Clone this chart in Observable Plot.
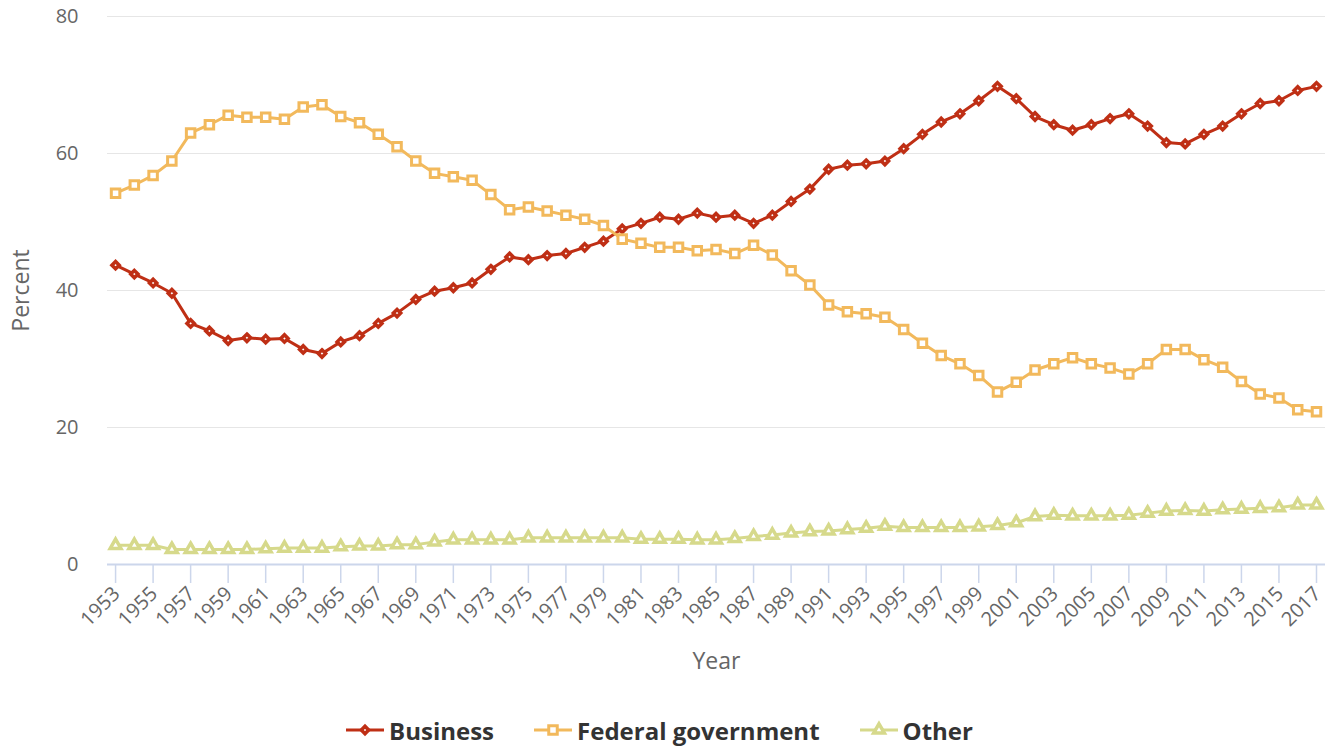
<!DOCTYPE html>
<html>
<head>
<meta charset="utf-8">
<script src="https://cdn.jsdelivr.net/npm/d3@7"></script>
<script src="https://cdn.jsdelivr.net/npm/@observablehq/plot@0.6"></script>
<style>
  html, body { margin: 0; padding: 0; background: #fff; }
  #chart { width: 1334px; }
  .legend { display: flex; justify-content: center; align-items: center; gap: 40px;
    font-family: "Open Sans", sans-serif; font-weight: 700; font-size: 24px; color: #333;
    height: 32px; margin-top: 14px; padding-right: 15px; width: 1334px; box-sizing: border-box; }
  .legend .item { display: flex; align-items: center; gap: 5px; }
  .legend svg { display: block; }
</style>
</head>
<body>
<div id="chart"></div>
<script>
const years = d3.range(1953, 2018);
const business = [43.7,42.4,41.1,39.6,35.2,34.1,32.7,33.1,32.9,33.0,
  31.4,30.8,32.5,33.4,35.2,36.7,38.7,39.9,40.4,41.1,
  43.1,44.9,44.5,45.1,45.4,46.3,47.2,49.0,49.8,50.7,
  50.4,51.3,50.7,51.0,49.8,51.0,53.0,54.8,57.7,58.3,
  58.5,58.9,60.7,62.8,64.6,65.8,67.7,69.8,68.0,65.4,
  64.2,63.4,64.2,65.1,65.8,64.0,61.6,61.4,62.8,64.0,
  65.8,67.3,67.7,69.2,69.8];
const federal = [54.2,55.4,56.8,58.9,63.0,64.2,65.6,65.3,65.3,65.0,
  66.8,67.1,65.4,64.5,62.8,61.0,58.9,57.1,56.6,56.1,
  54.0,51.8,52.2,51.6,51.0,50.4,49.5,47.5,46.9,46.3,
  46.3,45.8,46.0,45.4,46.6,45.2,42.9,40.8,37.9,36.9,
  36.6,36.1,34.3,32.3,30.5,29.3,27.6,25.2,26.6,28.4,
  29.3,30.2,29.3,28.7,27.8,29.3,31.4,31.4,29.9,28.8,
  26.7,24.9,24.3,22.6,22.3];
const other = [2.8,2.8,2.8,2.2,2.2,2.2,2.2,2.2,2.3,2.4,
  2.4,2.4,2.6,2.7,2.7,2.9,2.9,3.3,3.6,3.6,
  3.6,3.6,3.9,3.9,3.9,3.9,3.9,3.9,3.7,3.7,
  3.7,3.6,3.6,3.8,4.1,4.3,4.6,4.8,4.9,5.1,
  5.3,5.6,5.4,5.4,5.4,5.4,5.5,5.7,6.1,7.0,
  7.2,7.1,7.1,7.1,7.2,7.5,7.8,7.9,7.8,8.0,
  8.1,8.2,8.3,8.7,8.7];
const seriesNames = ["Business", "Federal government", "Other"];
const seriesColors = ["#bf2f15", "#f2b95c", "#d6d98b"];
const seriesSymbols = ["diamond2", "square", "triangle"];
const yTicks = [0, 20, 40, 60, 80];
const xTicks = d3.range(1953, 2018, 2);

const seriesValues = [business, federal, other];
const tables = seriesValues.map(vals => years.map((yr, i) => ({year: yr, value: vals[i]})));
const dotR = [3.3, 4.8, 4.0];
const dotStroke = [3.5, 3, 3.5];

const seriesMarks = tables.flatMap((t, k) => [
  Plot.line(t, {x: "year", y: "value", stroke: seriesColors[k], strokeWidth: 3}),
  Plot.dot(t, {x: "year", y: "value", symbol: seriesSymbols[k], r: dotR[k],
    fill: "white", stroke: seriesColors[k], strokeWidth: dotStroke[k]})
]);

const chart = Plot.plot({
  width: 1334,
  height: 700,
  marginTop: 16,
  marginBottom: 136,
  marginLeft: 107,
  marginRight: 9,
  x: {domain: [1952.57, 2017.48]},
  y: {domain: [0, 80]},
  style: {fontFamily: "'Open Sans', sans-serif", color: "#666", background: "white", overflow: "visible"},
  marks: [
    Plot.ruleY(yTicks.filter(d => d > 0), {stroke: "#e6e6e6", strokeWidth: 1.2}),
    Plot.axisY({ticks: yTicks, tickSize: 0, tickPadding: 29, fontSize: 20, label: null, tickFormat: d => String(d)}),
    Plot.axisX({ticks: xTicks, tickSize: 19, tickFormat: () => "", stroke: "#ccd6eb", strokeWidth: 1.5, label: null}),
    Plot.ruleY([0], {stroke: "#ccd6eb", strokeWidth: 2}),
    Plot.text(xTicks, {x: d => d, frameAnchor: "bottom", dy: 26, dx: 1, rotate: -45,
      textAnchor: "end", lineAnchor: "middle", fontSize: 20, fill: "#666", text: d => String(d)}),
    Plot.text(["Percent"], {frameAnchor: "left", dx: -86, rotate: -90, textAnchor: "middle",
      lineAnchor: "middle", fontSize: 23, fill: "#666"}),
    Plot.text(["Year"], {frameAnchor: "bottom", dy: 97, textAnchor: "middle", lineAnchor: "middle",
      fontSize: 23, fill: "#666"}),
    ...seriesMarks
  ]
});
document.getElementById("chart").appendChild(chart);

// legend
const legend = document.createElement("div");
legend.className = "legend";
seriesNames.forEach((name, k) => {
  const item = document.createElement("div");
  item.className = "item";
  const sym = d3.create("svg").attr("width", 38).attr("height", 20);
  sym.append("line").attr("x1", 0).attr("x2", 38).attr("y1", 10).attr("y2", 10)
    .attr("stroke", seriesColors[k]).attr("stroke-width", 3);
  const symType = [d3.symbolDiamond2, d3.symbolSquare, d3.symbolTriangle][k];
  const size = Math.PI * dotR[k] * dotR[k];
  sym.append("path").attr("d", d3.symbol(symType, size)())
    .attr("transform", "translate(19,10)")
    .attr("fill", "white").attr("stroke", seriesColors[k]).attr("stroke-width", dotStroke[k]);
  item.appendChild(sym.node());
  const label = document.createElement("span");
  label.textContent = name;
  item.appendChild(label);
  legend.appendChild(item);
});
document.body.appendChild(legend);
</script>
</body>
</html>
